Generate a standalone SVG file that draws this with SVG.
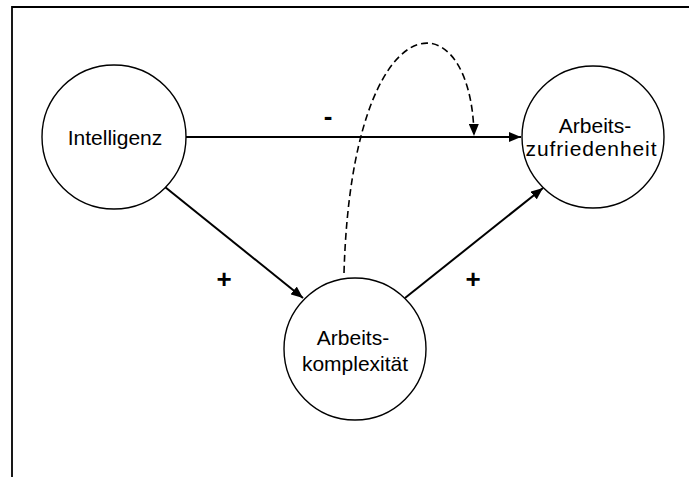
<svg xmlns="http://www.w3.org/2000/svg" width="689" height="477" viewBox="0 0 689 477">
<defs>
<style>
.node{fill:#fff;stroke:#000;stroke-width:1.4}
.lbl{font-family:"Liberation Sans",Arial,sans-serif;font-size:21px;fill:#000;text-anchor:middle}
.sign{font-family:"Liberation Sans",Arial,sans-serif;font-size:26px;font-weight:bold;fill:#000;text-anchor:middle}
.edge{fill:none;stroke:#000;stroke-width:2}
.dash{fill:none;stroke:#000;stroke-width:1.6;stroke-dasharray:7 4}
</style>
<marker id="ah" viewBox="0 0 12 10" refX="12" refY="5" markerWidth="12" markerHeight="10" markerUnits="userSpaceOnUse" orient="auto">
<path d="M0,0 L12,5 L0,10 Z" fill="#000"/>
</marker>
</defs>
<rect width="689" height="477" fill="#fff"/>
<path d="M12,477 V7 H689" fill="none" stroke="#000" stroke-width="1.8"/>
<g id="connectors">
<line class="edge" x1="186" y1="137" x2="521" y2="137" marker-end="url(#ah)"/>
<line class="edge" x1="165" y1="187" x2="303" y2="298" marker-end="url(#ah)"/>
<line class="edge" x1="405" y1="298" x2="543" y2="188" marker-end="url(#ah)"/>
<path class="dash" d="M344,273 C352,-5 472,-5 474,136" marker-end="url(#ah)"/>
</g>
<g id="sign-minus"><text class="sign" x="328" y="125">-</text></g>
<g id="sign-plus1"><text class="sign" x="224" y="288">+</text></g>
<g id="sign-plus2"><text class="sign" x="473" y="288">+</text></g>
<g id="intelligenz">
<circle class="node" cx="114" cy="137" r="72"/>
<text class="lbl" x="115" y="145">Intelligenz</text>
</g>
<g id="arbeitszufriedenheit">
<circle class="node" cx="593" cy="137" r="71"/>
<text class="lbl" x="595" y="133">Arbeits-</text>
<text class="lbl" x="591" y="156" textLength="131" lengthAdjust="spacing">zufriedenheit</text>
</g>
<g id="arbeitskomplexitaet">
<circle class="node" cx="355" cy="349" r="71"/>
<text class="lbl" x="353" y="345">Arbeits-</text>
<text class="lbl" x="355" y="371">komplexität</text>
</g>
</svg>
